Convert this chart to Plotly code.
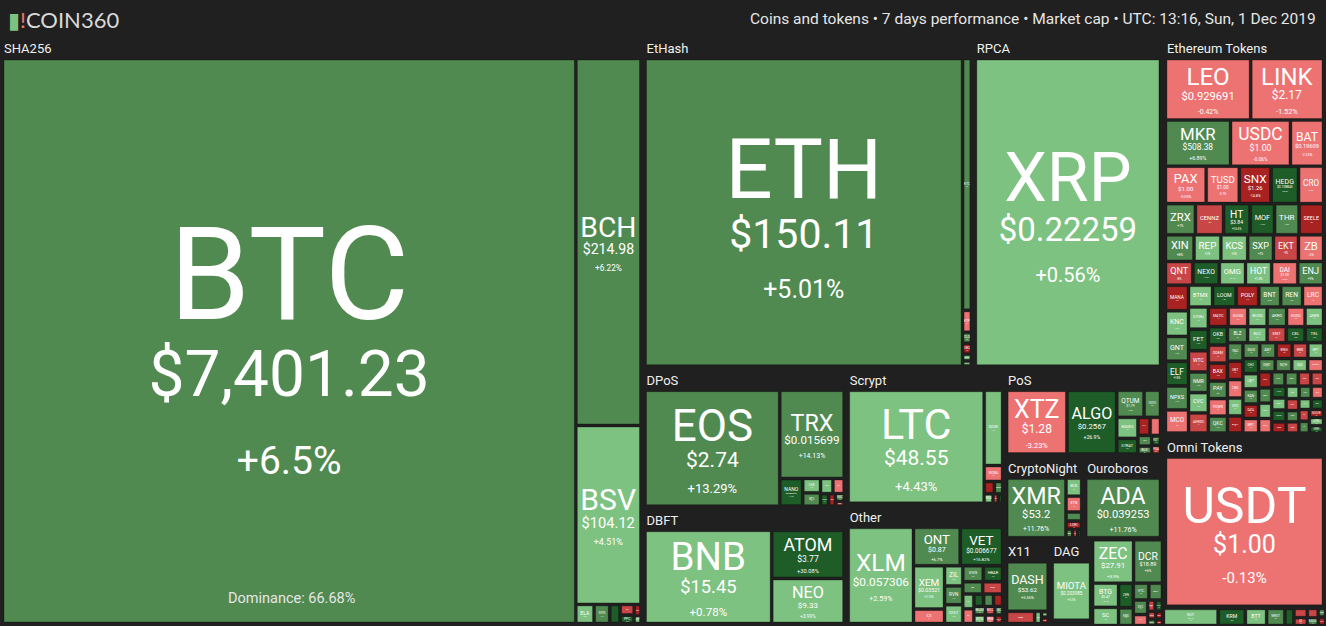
import plotly.graph_objects as go

# ---- tile weights (read from the tile areas), 7 day change in % ----
SHA256_SYM = ["BTC", "BCH", "BSV", "ELA", "SYS", "EMC", "NMC", "PPC", "CRW", "XP"]
SHA256_VAL = [325, 24, 11.7, 0.35, 0.3, 0.2, 0.15, 0.12, 0.08, 0.05]
SHA256_CHG = [6.5, 6.22, 4.51, 3.2, 7.4, 18.0, -6.1, 21.5, -12.4, 4.0]

ETHASH_SYM = ["ETH", "ETC", "ETP", "CLO", "UBQ", "EXP", "ETHO"]
ETHASH_VAL = [102, 2.3, 0.2, 0.1, 0.1, 0.06, 0.05]
ETHASH_CHG = [5.01, 6.8, -3.0, 12.0, -14.0, 2.5, 9.0]

RPCA_SYM = ["XRP"]
RPCA_VAL = [60]
RPCA_CHG = [0.56]

DPOS_SYM = ["EOS", "TRX", "NANO", "LSK", "BTS", "STEEM", "ARK", "TLOS", "NULS", "GXC", "RISE"]
DPOS_VAL = [18.4, 6.7, 0.75, 0.3, 0.28, 0.22, 0.2, 0.12, 0.1, 0.08, 0.05]
DPOS_CHG = [13.29, 14.13, 17.2, 1.5, 9.0, 2.0, -4.0, 16.0, -11.0, 6.0, -8.0]

DBFT_SYM = ["BNB", "ATOM", "NEO"]
DBFT_VAL = [14.5, 4.3, 4.0]
DBFT_CHG = [0.78, 30.08, 3.99]

SCRYPT_SYM = ["LTC", "DOGE", "MONA", "EMC2", "GAME", "RDD", "XMY", "DGC"]
SCRYPT_VAL = [18.3, 1.65, 0.35, 0.15, 0.12, 0.1, 0.06, 0.05]
SCRYPT_CHG = [4.43, 1.2, -3.5, -12.0, 8.0, 3.0, -7.0, 15.5]

POS_SYM = ["XTZ", "ALGO", "QTUM", "VSYS", "WAVES", "STRAT", "PIVX", "NAV", "TOMO", "BLK", "NXT", "POA"]
POS_VAL = [5.2, 4.3, 1.0, 0.6, 0.6, 0.45, 0.3, 0.25, 0.2, 0.15, 0.12, 0.1]
POS_CHG = [-3.23, 26.9, 7.5, 8.2, 2.0, 22.0, -15.0, -4.0, 11.0, 6.0, 19.0, -9.0]

OTHER_SYM = ["XLM", "ONT", "VET", "XEM", "ICX", "ZIL", "RVN", "IOST", "XVG", "HBAR", "AE", "BTM",
             "WAN", "ARDR", "NRG", "HC", "XZC", "BEAM", "IOTX", "WICC", "GRIN", "LBC", "FCT"]
OTHER_VAL = [7.7, 2.2, 2.0, 1.65, 0.55, 0.45, 0.42, 0.42, 0.4, 0.38, 0.3, 0.3,
             0.2, 0.2, 0.15, 0.15, 0.14, 0.12, 0.12, 0.1, 0.1, 0.08, 0.08]
OTHER_CHG = [2.59, 6.7, 15.82, 2.16, -2.0, 3.0, 7.0, 1.8, 8.0, 16.0, 6.0, -5.5,
             2.2, -3.0, 17.0, 9.0, -11.0, 12.0, 4.0, -6.0, -2.5, 5.0, -13.0]

CN_SYM = ["XMR", "BCN", "ETN", "XHV", "LOKI", "AEON", "TRTL", "GRFT"]
CN_VAL = [5.0, 0.4, 0.35, 0.2, 0.18, 0.08, 0.06, 0.05]
CN_CHG = [11.76, 3.0, -4.0, 14.0, -12.0, 6.0, -5.0, 18.0]

OUROBOROS_SYM = ["ADA"]
OUROBOROS_VAL = [6.3]
OUROBOROS_CHG = [11.76]

X11_SYM = ["DASH", "ABBC", "XSN", "ION", "PURA"]
X11_VAL = [3.0, 0.5, 0.12, 0.06, 0.06]
X11_CHG = [5.55, -6.0, 4.0, 9.0, -14.0]

DAG_SYM = ["MIOTA", "GBYTE"]
DAG_VAL = [3.3, 0.18]
DAG_CHG = [3.3, 7.0]

EQUIHASH_SYM = ["ZEC", "BTG", "ZEN", "KMD", "ZCL", "BTCP"]
EQUIHASH_VAL = [1.7, 0.6, 0.35, 0.25, 0.08, 0.05]
EQUIHASH_CHG = [3.9, 2.1, 22.0, 8.0, -9.0, 12.0]

BLAKE256_SYM = ["DCR", "XVC"]
BLAKE256_VAL = [1.2, 0.2]
BLAKE256_CHG = [6.0, 8.5]

SMALL_ALGO_NAMES = ["Blake2b", "X13", "Lyra2REv3", "Groestl", "NeoScrypt"]
SMALL_ALGO_SYM = [["SC", "XSC"], ["BCD", "CLOAK"], ["VTC"], ["GRS"], ["FTC", "GBX"]]
SMALL_ALGO_VAL = [[0.45, 0.06], [0.22, 0.04], [0.25], [0.15], [0.08, 0.05]]
SMALL_ALGO_CHG = [[3.0, -8.0], [6.0, -12.0], [8.0], [-4.0], [16.0, -10.0]]

ERC20_SYM = ["LEO", "LINK", "MKR", "USDC", "BAT", "PAX", "TUSD", "SNX", "HEDG", "CRO", "ZRX",
             "CENNZ", "HT", "MOF", "THR", "REP", "OMG", "HOT", "DAI",
             "SEELE", "XIN", "KCS", "SXP", "EKT", "ZB", "QNT", "NEXO", "ENJ", "MANA",
             "KNC", "GNT", "ELF", "NPXS", "MCO", "BTMX", "LOOM", "POLY", "BNT", "REN",
             "LRC", "STORJ", "FET", "WTC", "NMR", "CVC", "MATIC", "GUSD", "BUSD", "HUSD",
             "OKB", "ODEM", "PAY", "POWR", "QKC", "RLC", "SNT", "TEL", "TRAC", "UBT",
             "XYO", "AMPL", "ANT", "BRD", "CHZ", "CRPT", "DATA", "DENT", "DGD", "DRGN",
             "EDO", "EURS", "FUN", "GNO", "HYN", "IDEX", "LAMB", "LEND", "MXC", "ORBS",
             "OCEAN", "PPT", "QASH", "REQ", "SAN", "SOLVE", "UTK", "VERI",
             "AERGO", "AKRO", "ANKR", "BAX", "BLZ", "CEL", "CND", "DGX", "ENG", "HPT",
             "KAN", "MFT", "MITH", "OGN", "RCN", "RDN", "RSR", "SNGLS", "SRN", "STPT"]
ERC20_VAL = [5.5, 4.7, 3.15, 2.9, 1.6, 1.6, 1.3, 1.25, 1.08, 0.98, 0.98,
             0.92, 0.87, 0.8, 0.8, 0.75, 0.65, 0.65, 0.65,
             0.8, 0.8, 0.75, 0.72, 0.7, 0.7, 0.68, 0.66, 0.64, 0.62,
             0.62, 0.6, 0.6, 0.58, 0.56, 0.55, 0.54, 0.52, 0.5, 0.5,
             0.48, 0.46, 0.45, 0.44, 0.43, 0.42, 0.41, 0.4, 0.4, 0.38,
             0.37, 0.36, 0.35, 0.35, 0.34, 0.33, 0.32, 0.31, 0.3, 0.3,
             0.29, 0.28, 0.27, 0.26, 0.25, 0.25, 0.24, 0.23, 0.22, 0.22,
             0.21, 0.2, 0.2, 0.19, 0.18, 0.18, 0.17, 0.16, 0.16, 0.15,
             0.15, 0.14, 0.14, 0.13, 0.13, 0.12, 0.12, 0.11,
             0.42, 0.4, 0.38, 0.36, 0.34, 0.32, 0.3, 0.28, 0.27, 0.26,
             0.25, 0.24, 0.23, 0.22, 0.21, 0.2, 0.19, 0.18, 0.17, 0.16]
ERC20_CHG = [-0.42, -1.52, 6.89, -0.06, -2.35, -0.05, -0.1, -14.8, 25.9, -0.9, 7.0,
             -7.5, 16.5, 19.0, 6.0, 2.0, 3.1, 1.8, -0.3,
             -13, 8, 3, 7, -9, -3, -8, 16, 9, -12,
             2, 6, 18, 11, -2, 4, 22, -14, 5.5, 9,
             -4, 3, 17, -7, 12, 1, -11, -0.2, 0.1, -0.4,
             16, -6, 8, -3, 14, 3, -9, 19, 7, -15,
             2, -18, 6, -5, 21, 4, -12, 9, 1, -3,
             13, -0.5, 7, -8, 17, 3, -16, 5, -4, 11,
             -9, 2, 15, -6, 8, -13, 4, 19,
             -7, 12, 3, -15, 6, 20, -2, 9, -10, 4,
             13, -4, 7, -17, 2, 10, -6, 24, 1, -9]

OMNI_SYM = ["USDT"]
OMNI_VAL = [27]
OMNI_CHG = [-0.13]

SMALL_TOKEN_NAMES = ["EOS Tokens", "TRON Tokens", "Waves Tokens", "NEO Tokens"]
SMALL_TOKEN_SYM = [["NUT", "KRM", "IQ", "EIDOS"], ["BTT", "WIN", "SEED"], ["WEST", "WCT"], ["NEX", "SWTH"]]
SMALL_TOKEN_VAL = [[0.9, 0.45, 0.1, 0.08], [0.35, 0.12, 0.06], [0.3, 0.06], [0.15, 0.1]]
SMALL_TOKEN_CHG = [[3.0, 18.0, -5.0, 7.0], [2.0, -6.0, 9.0], [8.0, -10.0], [15.0, -7.0]]

PRICES = {"BTC": "$7,401.23", "BCH": "$214.98", "BSV": "$104.12", "ETH": "$150.11",
          "XRP": "$0.22259", "EOS": "$2.74", "TRX": "$0.015699", "NANO": "$0.886357",
          "BNB": "$15.45", "ATOM": "$3.77", "NEO": "$9.33", "LTC": "$48.55",
          "XTZ": "$1.28", "ALGO": "$0.2567", "QTUM": "$1.79", "XLM": "$0.057306",
          "ONT": "$0.87", "VET": "$0.006677", "XEM": "$0.03521", "XMR": "$53.2",
          "ADA": "$0.039253", "DASH": "$53.62", "MIOTA": "$0.203985", "ZEC": "$27.91",
          "BTG": "$6.47", "DCR": "$18.89", "USDT": "$1.00", "LEO": "$0.929691",
          "LINK": "$2.17", "MKR": "$508.38", "USDC": "$1.00", "BAT": "$0.19609",
          "PAX": "$1.00", "TUSD": "$1.00", "SNX": "$1.26", "HEDG": "$0.708845",
          "HT": "$3.84", "DAI": "$1.00", "NUT": "$23.16"}

COIN_GROUPS = [("SHA256", SHA256_SYM, SHA256_VAL, SHA256_CHG),
               ("EtHash", ETHASH_SYM, ETHASH_VAL, ETHASH_CHG),
               ("RPCA", RPCA_SYM, RPCA_VAL, RPCA_CHG),
               ("DPoS", DPOS_SYM, DPOS_VAL, DPOS_CHG),
               ("DBFT", DBFT_SYM, DBFT_VAL, DBFT_CHG),
               ("Scrypt", SCRYPT_SYM, SCRYPT_VAL, SCRYPT_CHG),
               ("PoS", POS_SYM, POS_VAL, POS_CHG),
               ("Other", OTHER_SYM, OTHER_VAL, OTHER_CHG),
               ("CryptoNight", CN_SYM, CN_VAL, CN_CHG),
               ("Ouroboros", OUROBOROS_SYM, OUROBOROS_VAL, OUROBOROS_CHG),
               ("X11", X11_SYM, X11_VAL, X11_CHG),
               ("DAG", DAG_SYM, DAG_VAL, DAG_CHG),
               ("Equihash", EQUIHASH_SYM, EQUIHASH_VAL, EQUIHASH_CHG),
               ("BLAKE256", BLAKE256_SYM, BLAKE256_VAL, BLAKE256_CHG)]
COIN_GROUPS += list(zip(SMALL_ALGO_NAMES, SMALL_ALGO_SYM, SMALL_ALGO_VAL, SMALL_ALGO_CHG))

TOKEN_GROUPS = [("Ethereum Tokens", ERC20_SYM, ERC20_VAL, ERC20_CHG),
                ("Omni Tokens", OMNI_SYM, OMNI_VAL, OMNI_CHG)]
TOKEN_GROUPS += list(zip(SMALL_TOKEN_NAMES, SMALL_TOKEN_SYM, SMALL_TOKEN_VAL, SMALL_TOKEN_CHG))

BG = "#1f201f"
FONT = "Roboto"
CLEAR = "rgba(0,0,0,0)"


def tile_color(c):
    if c <= -10:
        return "#a82222"
    if c <= -5:
        return "#c94646"
    if c < 0:
        return "#ed7373"
    if c < 5:
        return "#7dc281"
    if c < 15:
        return "#518a51"
    return "#1e5c28"


def tile_text(sym, v, c):
    # symbol grows faster than the price / change lines
    s = 14.4 * v ** 0.38
    lines = ["<span style='font-size:%dpx'>%s</span>" % (max(1, round(s)), sym)]
    if sym in PRICES:
        lines.append("<span style='font-size:%dpx'>%s</span>" % (max(1, round(0.49 * s)), PRICES[sym]))
    lines.append("<span style='font-size:%dpx'>%+g%%</span>" % (max(1, round(0.3 * s)), c))
    return "<br>".join(lines), 0.46 * s


def build(groups, root):
    d = dict(ids=[root], labels=[""], parents=[""], values=[0], text=["&nbsp;"], head=["&nbsp;"],
             color=[BG], size=[12], lw=[0], tcol=[CLEAR], hcol=[CLEAR])
    for name, syms, vals, chgs in groups:
        gid = root + "/" + name
        parent = root
        if sum(vals) > 3.3:
            # groups that are big enough get a header band
            d["ids"].append(gid); d["labels"].append(name); d["parents"].append(root)
            d["values"].append(0); d["text"].append("&nbsp;"); d["color"].append(BG)
            d["head"].append("<b>%s</b>" % name); d["size"].append(12); d["lw"].append(0)
            d["tcol"].append(CLEAR); d["hcol"].append("#f0f0f0")
            parent = gid
        for s, v, c in zip(syms, vals, chgs):
            txt, p = tile_text(s, v, c)
            d["ids"].append(gid + "/" + s); d["labels"].append(s); d["parents"].append(parent)
            d["values"].append(v); d["text"].append(txt); d["head"].append("")
            d["color"].append(tile_color(c)); d["size"].append(p); d["lw"].append(1)
            d["tcol"].append("white"); d["hcol"].append(CLEAR)
    return d


coins = build(COIN_GROUPS, "coins")
tokens = build(TOKEN_GROUPS, "tokens")
split = sum(coins["values"]) / (sum(coins["values"]) + sum(tokens["values"]))
top = 1 - 16 / 626
pad = dict(t=22, l=2, r=2, b=2)

fig = go.Figure()
for d, dom in [(coins, [0, split]), (tokens, [split, 1])]:
    common = dict(ids=d["ids"], labels=d["labels"], parents=d["parents"], values=d["values"],
                  branchvalues="remainder", sort=True, textinfo="text",
                  tiling=dict(packing="squarify"), pathbar=dict(visible=False),
                  domain=dict(x=dom, y=[0, top]), hoverinfo="skip")
    fig.add_trace(go.Treemap(
        **common, text=d["text"], textposition="middle center",
        textfont=dict(family=FONT, size=d["size"], color=d["tcol"]),
        marker=dict(colors=d["color"], line=dict(color="rgba(0,0,0,0.28)", width=d["lw"]),
                    pad=pad)))
    # second pass only for the group headers (left aligned)
    fig.add_trace(go.Treemap(
        **common, text=d["head"], textposition="top left",
        textfont=dict(family=FONT, size=13, color=d["hcol"]),
        marker=dict(colors=[CLEAR] * len(d["ids"]), line=dict(width=0), pad=pad)))

fig.add_annotation(x=6 / 1326, y=1 - 19 / 626, xref="paper", yref="paper",
                   xanchor="left", yanchor="middle", showarrow=False,
                   text="<span style='color:#7dc281'>▮</span><span style='color:#ed7373'>!</span>COIN360",
                   font=dict(family="Lato", size=22, color="#d9d9d9"))
fig.add_annotation(x=1318 / 1326, y=1 - 19 / 626, xref="paper", yref="paper",
                   xanchor="right", yanchor="middle", showarrow=False,
                   text="Coins and tokens • 7 days performance • Market cap • UTC: 13:16, Sun, 1 Dec 2019",
                   font=dict(family=FONT, size=15.5, color="#e6e6e6"))
fig.add_annotation(x=291 / 1326, y=1 - 598 / 626, xref="paper", yref="paper",
                   xanchor="center", yanchor="middle", showarrow=False,
                   text="Dominance: 66.68%",
                   font=dict(family=FONT, size=14.5, color="#e6e6e6"))

fig.update_layout(width=1326, height=626, margin=dict(l=0, r=0, t=0, b=0),
                  paper_bgcolor=BG, plot_bgcolor=BG, showlegend=False)
fig.write_html("out.html", config={"displayModeBar": False},
               post_script="document.body.style.margin = '0';")
